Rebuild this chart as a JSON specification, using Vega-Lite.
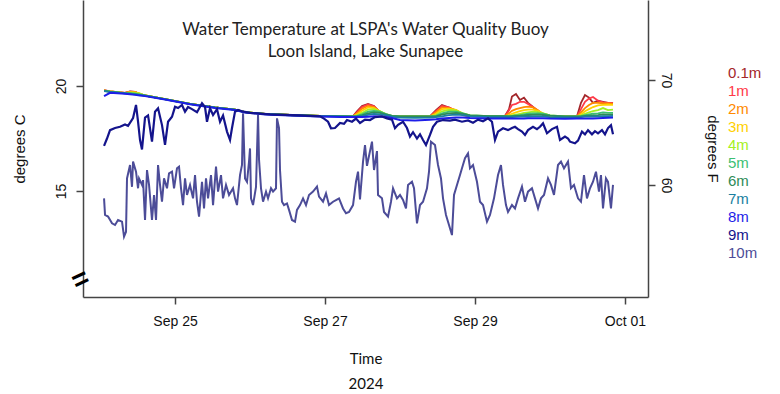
{
 "$schema": "https://vega.github.io/schema/vega-lite/v6.json",
 "width": 565, "height": 297,
 "autosize": {"type": "none"},
 "padding": {"left": 83, "top": 0, "right": 132, "bottom": 97},
 "title": {"text": ["Water Temperature at LSPA's Water Quality Buoy", "Loon Island, Lake Sunapee"], "anchor": "middle", "offset": -61, "baseline": "top", "font": "Lato", "fontSize": 17, "fontWeight": "normal", "lineHeight": 22, "color": "#222"},
 "datasets": {
  "upper": [
   {"t":"2024-09-24T01:17","s01":19.80,"s1":19.79,"s2":19.79,"s3":19.78,"s4":19.78,"s5":19.77,"s6":19.77,"s7":19.76,"s8":19.52},
   {"t":"2024-09-24T03:12","s01":19.75,"s1":19.75,"s2":19.74,"s3":19.74,"s4":19.74,"s5":19.73,"s6":19.73,"s7":19.72,"s8":19.68},
   {"t":"2024-09-24T08:00","s01":19.67,"s1":19.67,"s2":19.67,"s3":19.66,"s4":19.66,"s5":19.66,"s6":19.65,"s7":19.65,"s8":19.63},
   {"t":"2024-09-24T09:36","s01":19.74,"s1":19.73,"s2":19.72,"s3":19.71,"s4":19.69,"s5":19.66,"s6":19.64,"s7":19.63,"s8":19.61},
   {"t":"2024-09-24T11:12","s01":19.72,"s1":19.72,"s2":19.71,"s3":19.70,"s4":19.68,"s5":19.64,"s6":19.62,"s7":19.60,"s8":19.58},
   {"t":"2024-09-24T12:48","s01":19.62,"s1":19.62,"s2":19.63,"s3":19.64,"s4":19.64,"s5":19.60,"s6":19.58,"s7":19.57,"s8":19.55},
   {"t":"2024-09-24T14:24","s01":19.55,"s1":19.55,"s2":19.55,"s3":19.55,"s4":19.55,"s5":19.55,"s6":19.54,"s7":19.54,"s8":19.52},
   {"t":"2024-09-24T20:48","s01":19.38,"s1":19.38,"s2":19.38,"s3":19.38,"s4":19.38,"s5":19.38,"s6":19.38,"s7":19.37,"s8":19.36},
   {"t":"2024-09-25T04:48","s01":19.15,"s1":19.15,"s2":19.15,"s3":19.15,"s4":19.15,"s5":19.15,"s6":19.15,"s7":19.14,"s8":19.13},
   {"t":"2024-09-25T12:48","s01":18.98,"s1":18.98,"s2":18.98,"s3":18.98,"s4":18.98,"s5":18.98,"s6":18.98,"s7":18.97,"s8":18.96},
   {"t":"2024-09-25T19:12","s01":18.88,"s1":18.88,"s2":18.88,"s3":18.88,"s4":18.88,"s5":18.88,"s6":18.88,"s7":18.87,"s8":18.86},
   {"t":"2024-09-25T22:24","s01":18.76,"s1":18.76,"s2":18.76,"s3":18.76,"s4":18.76,"s5":18.76,"s6":18.76,"s7":18.75,"s8":18.74},
   {"t":"2024-09-26T04:48","s01":18.67,"s1":18.67,"s2":18.67,"s3":18.67,"s4":18.67,"s5":18.67,"s6":18.67,"s7":18.66,"s8":18.65},
   {"t":"2024-09-26T12:48","s01":18.62,"s1":18.62,"s2":18.62,"s3":18.62,"s4":18.62,"s5":18.62,"s6":18.62,"s7":18.61,"s8":18.60},
   {"t":"2024-09-26T22:24","s01":18.58,"s1":18.58,"s2":18.58,"s3":18.58,"s4":18.58,"s5":18.58,"s6":18.58,"s7":18.57,"s8":18.55},
   {"t":"2024-09-27T04:48","s01":18.57,"s1":18.57,"s2":18.57,"s3":18.57,"s4":18.57,"s5":18.57,"s6":18.57,"s7":18.55,"s8":18.52},
   {"t":"2024-09-27T08:58","s01":18.56,"s1":18.56,"s2":18.56,"s3":18.56,"s4":18.56,"s5":18.56,"s6":18.56,"s7":18.54,"s8":18.52},
   {"t":"2024-09-27T10:14","s01":18.80,"s1":18.75,"s2":18.70,"s3":18.65,"s4":18.60,"s5":18.58,"s6":18.57,"s7":18.55,"s8":18.52},
   {"t":"2024-09-27T11:50","s01":19.05,"s1":19.00,"s2":18.92,"s3":18.82,"s4":18.72,"s5":18.65,"s6":18.60,"s7":18.57,"s8":18.52},
   {"t":"2024-09-27T13:46","s01":19.15,"s1":19.12,"s2":19.05,"s3":18.98,"s4":18.88,"s5":18.78,"s6":18.70,"s7":18.63,"s8":18.54},
   {"t":"2024-09-27T15:41","s01":19.05,"s1":19.03,"s2":19.00,"s3":18.95,"s4":18.90,"s5":18.82,"s6":18.75,"s7":18.67,"s8":18.56},
   {"t":"2024-09-27T17:36","s01":18.75,"s1":18.76,"s2":18.78,"s3":18.80,"s4":18.80,"s5":18.78,"s6":18.72,"s7":18.65,"s8":18.55},
   {"t":"2024-09-27T19:31","s01":18.60,"s1":18.60,"s2":18.62,"s3":18.64,"s4":18.66,"s5":18.66,"s6":18.65,"s7":18.61,"s8":18.53},
   {"t":"2024-09-27T21:26","s01":18.57,"s1":18.57,"s2":18.57,"s3":18.57,"s4":18.58,"s5":18.58,"s6":18.58,"s7":18.54,"s8":18.48},
   {"t":"2024-09-28T00:00","s01":18.56,"s1":18.56,"s2":18.56,"s3":18.56,"s4":18.56,"s5":18.56,"s6":18.56,"s7":18.50,"s8":18.38},
   {"t":"2024-09-28T04:48","s01":18.56,"s1":18.56,"s2":18.56,"s3":18.56,"s4":18.56,"s5":18.56,"s6":18.56,"s7":18.48,"s8":18.36},
   {"t":"2024-09-28T09:36","s01":18.55,"s1":18.55,"s2":18.55,"s3":18.55,"s4":18.55,"s5":18.55,"s6":18.55,"s7":18.50,"s8":18.40},
   {"t":"2024-09-28T11:31","s01":18.85,"s1":18.80,"s2":18.75,"s3":18.68,"s4":18.62,"s5":18.58,"s6":18.56,"s7":18.52,"s8":18.42},
   {"t":"2024-09-28T13:26","s01":19.10,"s1":19.05,"s2":18.98,"s3":18.90,"s4":18.80,"s5":18.70,"s6":18.64,"s7":18.56,"s8":18.45},
   {"t":"2024-09-28T15:41","s01":18.98,"s1":18.98,"s2":18.95,"s3":18.92,"s4":18.86,"s5":18.78,"s6":18.70,"s7":18.62,"s8":18.48},
   {"t":"2024-09-28T17:55","s01":18.80,"s1":18.82,"s2":18.85,"s3":18.86,"s4":18.84,"s5":18.78,"s6":18.72,"s7":18.64,"s8":18.50},
   {"t":"2024-09-28T20:10","s01":18.62,"s1":18.63,"s2":18.65,"s3":18.68,"s4":18.70,"s5":18.70,"s6":18.68,"s7":18.62,"s8":18.50},
   {"t":"2024-09-28T22:24","s01":18.57,"s1":18.57,"s2":18.58,"s3":18.59,"s4":18.60,"s5":18.60,"s6":18.60,"s7":18.56,"s8":18.48},
   {"t":"2024-09-29T04:48","s01":18.57,"s1":18.57,"s2":18.57,"s3":18.57,"s4":18.57,"s5":18.57,"s6":18.57,"s7":18.52,"s8":18.45},
   {"t":"2024-09-29T09:36","s01":18.57,"s1":18.57,"s2":18.57,"s3":18.57,"s4":18.57,"s5":18.57,"s6":18.57,"s7":18.52,"s8":18.45},
   {"t":"2024-09-29T10:53","s01":18.90,"s1":18.85,"s2":18.70,"s3":18.62,"s4":18.58,"s5":18.57,"s6":18.56,"s7":18.52,"s8":18.45},
   {"t":"2024-09-29T11:50","s01":19.50,"s1":19.10,"s2":18.82,"s3":18.68,"s4":18.60,"s5":18.58,"s6":18.57,"s7":18.52,"s8":18.45},
   {"t":"2024-09-29T13:07","s01":19.62,"s1":19.15,"s2":18.90,"s3":18.75,"s4":18.64,"s5":18.60,"s6":18.58,"s7":18.53,"s8":18.46},
   {"t":"2024-09-29T14:24","s01":19.33,"s1":19.25,"s2":18.95,"s3":18.80,"s4":18.68,"s5":18.62,"s6":18.59,"s7":18.54,"s8":18.46},
   {"t":"2024-09-29T15:41","s01":19.45,"s1":19.25,"s2":19.00,"s3":18.85,"s4":18.72,"s5":18.65,"s6":18.60,"s7":18.54,"s8":18.46},
   {"t":"2024-09-29T16:58","s01":19.20,"s1":19.15,"s2":19.02,"s3":18.88,"s4":18.75,"s5":18.68,"s6":18.62,"s7":18.55,"s8":18.47},
   {"t":"2024-09-29T18:34","s01":19.00,"s1":19.00,"s2":18.98,"s3":18.88,"s4":18.78,"s5":18.70,"s6":18.63,"s7":18.56,"s8":18.47},
   {"t":"2024-09-29T20:10","s01":18.80,"s1":18.82,"s2":18.85,"s3":18.82,"s4":18.76,"s5":18.70,"s6":18.64,"s7":18.56,"s8":18.47},
   {"t":"2024-09-29T21:46","s01":18.62,"s1":18.64,"s2":18.66,"s3":18.70,"s4":18.70,"s5":18.68,"s6":18.63,"s7":18.56,"s8":18.47},
   {"t":"2024-09-30T00:00","s01":18.57,"s1":18.57,"s2":18.58,"s3":18.59,"s4":18.60,"s5":18.60,"s6":18.59,"s7":18.52,"s8":18.45},
   {"t":"2024-09-30T04:48","s01":18.55,"s1":18.55,"s2":18.55,"s3":18.55,"s4":18.55,"s5":18.55,"s6":18.55,"s7":18.51,"s8":18.44},
   {"t":"2024-09-30T08:38","s01":18.55,"s1":18.55,"s2":18.55,"s3":18.55,"s4":18.55,"s5":18.55,"s6":18.55,"s7":18.51,"s8":18.45},
   {"t":"2024-09-30T09:55","s01":19.20,"s1":18.90,"s2":18.75,"s3":18.65,"s4":18.60,"s5":18.57,"s6":18.56,"s7":18.52,"s8":18.45},
   {"t":"2024-09-30T11:12","s01":19.57,"s1":19.25,"s2":18.95,"s3":18.80,"s4":18.68,"s5":18.62,"s6":18.58,"s7":18.54,"s8":18.46},
   {"t":"2024-09-30T12:29","s01":19.45,"s1":19.40,"s2":19.10,"s3":18.90,"s4":18.75,"s5":18.65,"s6":18.59,"s7":18.54,"s8":18.46},
   {"t":"2024-09-30T13:46","s01":19.20,"s1":19.48,"s2":19.20,"s3":19.00,"s4":18.80,"s5":18.68,"s6":18.60,"s7":18.55,"s8":18.46},
   {"t":"2024-09-30T15:22","s01":19.30,"s1":19.30,"s2":19.20,"s3":19.08,"s4":18.85,"s5":18.70,"s6":18.62,"s7":18.56,"s8":18.47},
   {"t":"2024-09-30T16:58","s01":19.25,"s1":19.22,"s2":19.18,"s3":19.10,"s4":18.95,"s5":18.75,"s6":18.65,"s7":18.57,"s8":18.48},
   {"t":"2024-09-30T18:34","s01":19.20,"s1":19.20,"s2":19.17,"s3":19.12,"s4":18.85,"s5":18.72,"s6":18.64,"s7":18.57,"s8":18.49},
   {"t":"2024-09-30T20:10","s01":19.18,"s1":19.18,"s2":19.15,"s3":19.10,"s4":18.88,"s5":18.72,"s6":18.64,"s7":18.58,"s8":18.50}
  ],
  "m9": [
   {"t":"2024-09-24T01:17","v":17.15},{"t":"2024-09-24T02:14","v":17.5},{"t":"2024-09-24T03:12","v":17.9},{"t":"2024-09-24T04:48","v":18.0},
   {"t":"2024-09-24T06:24","v":18.06},{"t":"2024-09-24T08:00","v":18.17},{"t":"2024-09-24T08:58","v":18.1},{"t":"2024-09-24T10:34","v":18.48},
   {"t":"2024-09-24T11:31","v":19.1},{"t":"2024-09-24T12:10","v":18.3},{"t":"2024-09-24T12:48","v":17.43},{"t":"2024-09-24T13:26","v":16.98},
   {"t":"2024-09-24T14:24","v":18.5},{"t":"2024-09-24T15:22","v":18.6},{"t":"2024-09-24T16:38","v":17.35},{"t":"2024-09-24T17:36","v":18.78},
   {"t":"2024-09-24T18:34","v":18.94},{"t":"2024-09-24T19:50","v":18.14},{"t":"2024-09-24T20:48","v":17.2},{"t":"2024-09-24T21:46","v":18.3},
   {"t":"2024-09-24T23:02","v":18.54},{"t":"2024-09-25T00:00","v":19.01},{"t":"2024-09-25T00:58","v":18.95},{"t":"2024-09-25T02:14","v":19.1},
   {"t":"2024-09-25T03:12","v":18.78},{"t":"2024-09-25T04:10","v":19.0},{"t":"2024-09-25T05:26","v":18.9},{"t":"2024-09-25T07:02","v":18.75},
   {"t":"2024-09-25T08:38","v":19.18},{"t":"2024-09-25T09:36","v":19.0},{"t":"2024-09-25T10:14","v":18.3},{"t":"2024-09-25T11:12","v":18.94},
   {"t":"2024-09-25T12:10","v":18.62},{"t":"2024-09-25T13:26","v":18.9},{"t":"2024-09-25T14:24","v":18.3},{"t":"2024-09-25T15:22","v":18.6},
   {"t":"2024-09-25T16:38","v":17.83},{"t":"2024-09-25T17:36","v":17.43},{"t":"2024-09-25T18:14","v":18.0},{"t":"2024-09-25T19:12","v":18.78},
   {"t":"2024-09-25T20:10","v":18.86},{"t":"2024-09-25T21:26","v":18.8},{"t":"2024-09-26T00:00","v":18.72},{"t":"2024-09-26T06:24","v":18.65},
   {"t":"2024-09-26T16:00","v":18.6},{"t":"2024-09-26T22:24","v":18.56},{"t":"2024-09-26T23:41","v":18.45},{"t":"2024-09-27T00:58","v":18.3},
   {"t":"2024-09-27T01:55","v":17.99},{"t":"2024-09-27T03:12","v":18.0},{"t":"2024-09-27T04:48","v":18.24},{"t":"2024-09-27T06:05","v":18.2},
   {"t":"2024-09-27T07:02","v":18.38},{"t":"2024-09-27T08:38","v":18.3},{"t":"2024-09-27T09:55","v":18.45},{"t":"2024-09-27T11:12","v":18.24},
   {"t":"2024-09-27T12:48","v":18.4},{"t":"2024-09-27T14:24","v":18.38},{"t":"2024-09-27T16:00","v":18.52},{"t":"2024-09-27T18:14","v":18.55},
   {"t":"2024-09-27T19:50","v":18.46},{"t":"2024-09-27T21:26","v":18.4},{"t":"2024-09-27T22:24","v":17.99},{"t":"2024-09-27T23:22","v":18.15},
   {"t":"2024-09-28T00:58","v":18.3},{"t":"2024-09-28T02:14","v":18.0},{"t":"2024-09-28T03:12","v":17.59},{"t":"2024-09-28T04:10","v":17.8},
   {"t":"2024-09-28T05:26","v":17.5},{"t":"2024-09-28T06:24","v":17.7},{"t":"2024-09-28T07:22","v":17.43},{"t":"2024-09-28T08:19","v":17.19},
   {"t":"2024-09-28T09:36","v":17.67},{"t":"2024-09-28T10:34","v":18.06},{"t":"2024-09-28T11:50","v":18.3},{"t":"2024-09-28T13:46","v":18.38},
   {"t":"2024-09-28T16:00","v":18.35},{"t":"2024-09-28T17:36","v":18.4},{"t":"2024-09-28T19:50","v":18.3},{"t":"2024-09-28T21:46","v":18.36},
   {"t":"2024-09-28T23:22","v":18.25},{"t":"2024-09-29T00:58","v":18.4},{"t":"2024-09-29T02:34","v":18.32},{"t":"2024-09-29T04:10","v":18.46},
   {"t":"2024-09-29T05:26","v":18.3},{"t":"2024-09-29T06:24","v":17.43},{"t":"2024-09-29T07:22","v":17.83},{"t":"2024-09-29T08:58","v":17.99},
   {"t":"2024-09-29T10:34","v":17.9},{"t":"2024-09-29T11:50","v":18.0},{"t":"2024-09-29T12:48","v":18.06},{"t":"2024-09-29T13:46","v":17.95},
   {"t":"2024-09-29T15:02","v":17.83},{"t":"2024-09-29T16:00","v":17.67},{"t":"2024-09-29T16:58","v":17.9},{"t":"2024-09-29T18:34","v":18.06},
   {"t":"2024-09-29T19:50","v":17.95},{"t":"2024-09-29T20:48","v":18.06},{"t":"2024-09-29T21:46","v":18.22},{"t":"2024-09-29T23:02","v":17.75},
   {"t":"2024-09-30T00:38","v":17.95},{"t":"2024-09-30T02:14","v":18.06},{"t":"2024-09-30T03:12","v":17.43},{"t":"2024-09-30T04:48","v":17.59},
   {"t":"2024-09-30T05:46","v":17.5},{"t":"2024-09-30T06:24","v":17.35},{"t":"2024-09-30T08:00","v":17.27},{"t":"2024-09-30T08:58","v":17.4},
   {"t":"2024-09-30T10:14","v":17.83},{"t":"2024-09-30T11:12","v":17.7},{"t":"2024-09-30T12:10","v":17.9},{"t":"2024-09-30T13:26","v":17.7},
   {"t":"2024-09-30T14:24","v":17.85},{"t":"2024-09-30T15:22","v":17.75},{"t":"2024-09-30T16:38","v":17.9},{"t":"2024-09-30T17:36","v":17.7},
   {"t":"2024-09-30T18:34","v":18.0},{"t":"2024-09-30T19:31","v":18.14},{"t":"2024-09-30T20:10","v":17.7}
  ],
  "m10": [
   {"t":"2024-09-24T01:17","v":14.65},{"t":"2024-09-24T01:36","v":13.86},{"t":"2024-09-24T02:34","v":13.78},{"t":"2024-09-24T03:50","v":13.46},
   {"t":"2024-09-24T04:48","v":13.38},{"t":"2024-09-24T05:46","v":13.62},{"t":"2024-09-24T07:02","v":13.54},{"t":"2024-09-24T07:41","v":12.83},
   {"t":"2024-09-24T08:19","v":13.06},{"t":"2024-09-24T08:38","v":15.6},{"t":"2024-09-24T09:36","v":16.24},{"t":"2024-09-24T10:14","v":15.2},
   {"t":"2024-09-24T10:34","v":16.4},{"t":"2024-09-24T11:31","v":15.92},{"t":"2024-09-24T12:10","v":15.13},{"t":"2024-09-24T12:29","v":15.6},
   {"t":"2024-09-24T13:26","v":15.29},{"t":"2024-09-24T13:46","v":15.52},{"t":"2024-09-24T14:24","v":13.62},{"t":"2024-09-24T15:02","v":16.0},
   {"t":"2024-09-24T15:41","v":15.29},{"t":"2024-09-24T16:38","v":13.62},{"t":"2024-09-24T17:17","v":14.81},{"t":"2024-09-24T17:55","v":13.62},
   {"t":"2024-09-24T18:34","v":16.24},{"t":"2024-09-24T19:12","v":15.29},{"t":"2024-09-24T19:50","v":14.49},{"t":"2024-09-24T20:29","v":15.6},
   {"t":"2024-09-24T21:26","v":15.13},{"t":"2024-09-24T22:05","v":15.84},{"t":"2024-09-24T23:02","v":15.92},{"t":"2024-09-24T23:41","v":15.13},
   {"t":"2024-09-25T00:38","v":16.08},{"t":"2024-09-25T01:17","v":16.16},{"t":"2024-09-25T01:55","v":15.13},{"t":"2024-09-25T02:34","v":14.33},
   {"t":"2024-09-25T03:12","v":15.6},{"t":"2024-09-25T03:50","v":14.81},{"t":"2024-09-25T04:48","v":15.29},{"t":"2024-09-25T05:46","v":14.65},
   {"t":"2024-09-25T06:24","v":15.76},{"t":"2024-09-25T07:02","v":14.49},{"t":"2024-09-25T07:41","v":13.78},{"t":"2024-09-25T08:38","v":15.44},
   {"t":"2024-09-25T09:17","v":14.17},{"t":"2024-09-25T09:55","v":15.6},{"t":"2024-09-25T10:34","v":14.65},{"t":"2024-09-25T11:31","v":15.76},
   {"t":"2024-09-25T12:10","v":14.33},{"t":"2024-09-25T13:07","v":16.16},{"t":"2024-09-25T13:46","v":14.97},{"t":"2024-09-25T14:43","v":15.76},
   {"t":"2024-09-25T15:22","v":14.65},{"t":"2024-09-25T16:19","v":15.29},{"t":"2024-09-25T17:17","v":14.81},{"t":"2024-09-25T18:34","v":15.13},
   {"t":"2024-09-25T19:12","v":14.65},{"t":"2024-09-25T19:50","v":14.33},{"t":"2024-09-25T20:48","v":15.76},{"t":"2024-09-25T21:26","v":16.24},
   {"t":"2024-09-25T21:46","v":18.7},{"t":"2024-09-25T22:24","v":15.6},{"t":"2024-09-25T23:02","v":15.44},{"t":"2024-09-25T23:41","v":16.4},
   {"t":"2024-09-26T00:00","v":17.03},{"t":"2024-09-26T00:19","v":14.65},{"t":"2024-09-26T00:58","v":14.33},{"t":"2024-09-26T01:55","v":15.2},
   {"t":"2024-09-26T02:34","v":18.62},{"t":"2024-09-26T02:53","v":16.5},{"t":"2024-09-26T03:31","v":15.13},{"t":"2024-09-26T04:10","v":14.49},
   {"t":"2024-09-26T05:07","v":14.97},{"t":"2024-09-26T05:46","v":14.65},{"t":"2024-09-26T06:43","v":15.13},{"t":"2024-09-26T07:22","v":14.97},
   {"t":"2024-09-26T08:19","v":15.13},{"t":"2024-09-26T08:38","v":18.46},{"t":"2024-09-26T09:17","v":18.0},{"t":"2024-09-26T09:36","v":16.0},
   {"t":"2024-09-26T10:14","v":14.49},{"t":"2024-09-26T10:53","v":14.33},{"t":"2024-09-26T11:50","v":14.41},{"t":"2024-09-26T12:29","v":14.1},
   {"t":"2024-09-26T13:26","v":13.62},{"t":"2024-09-26T14:24","v":13.54},{"t":"2024-09-26T15:02","v":14.1},{"t":"2024-09-26T16:00","v":14.33},
   {"t":"2024-09-26T16:58","v":14.65},{"t":"2024-09-26T17:55","v":14.33},{"t":"2024-09-26T18:53","v":14.81},{"t":"2024-09-26T20:10","v":14.97},
   {"t":"2024-09-26T21:26","v":15.21},{"t":"2024-09-26T22:05","v":14.73},{"t":"2024-09-26T23:22","v":14.49},{"t":"2024-09-27T00:19","v":14.89},
   {"t":"2024-09-27T01:17","v":14.33},{"t":"2024-09-27T02:34","v":14.49},{"t":"2024-09-27T03:31","v":14.57},{"t":"2024-09-27T04:29","v":14.65},
   {"t":"2024-09-27T05:46","v":14.17},{"t":"2024-09-27T06:43","v":13.94},{"t":"2024-09-27T07:41","v":14.0},{"t":"2024-09-27T08:58","v":14.33},
   {"t":"2024-09-27T09:55","v":15.44},{"t":"2024-09-27T10:34","v":15.92},{"t":"2024-09-27T11:12","v":14.6},{"t":"2024-09-27T12:10","v":16.4},
   {"t":"2024-09-27T12:48","v":17.19},{"t":"2024-09-27T13:26","v":16.2},{"t":"2024-09-27T14:24","v":16.9},{"t":"2024-09-27T15:02","v":17.35},
   {"t":"2024-09-27T15:41","v":16.0},{"t":"2024-09-27T16:38","v":16.9},{"t":"2024-09-27T16:58","v":14.81},{"t":"2024-09-27T18:14","v":14.65},
   {"t":"2024-09-27T18:53","v":14.0},{"t":"2024-09-27T20:10","v":13.78},{"t":"2024-09-27T21:07","v":14.49},{"t":"2024-09-27T21:46","v":15.13},
   {"t":"2024-09-27T23:02","v":14.65},{"t":"2024-09-28T00:00","v":14.81},{"t":"2024-09-28T00:58","v":14.57},{"t":"2024-09-28T01:55","v":14.17},
   {"t":"2024-09-28T02:34","v":15.29},{"t":"2024-09-28T03:50","v":15.44},{"t":"2024-09-28T04:29","v":15.13},{"t":"2024-09-28T05:26","v":13.46},
   {"t":"2024-09-28T06:24","v":14.33},{"t":"2024-09-28T07:22","v":14.49},{"t":"2024-09-28T08:38","v":15.13},{"t":"2024-09-28T09:17","v":15.92},
   {"t":"2024-09-28T09:55","v":17.35},{"t":"2024-09-28T11:12","v":17.19},{"t":"2024-09-28T12:10","v":16.24},{"t":"2024-09-28T13:07","v":15.6},
   {"t":"2024-09-28T13:46","v":14.65},{"t":"2024-09-28T14:43","v":13.86},{"t":"2024-09-28T15:41","v":13.38},{"t":"2024-09-28T16:38","v":12.9},
   {"t":"2024-09-28T17:17","v":14.81},{"t":"2024-09-28T18:14","v":15.29},{"t":"2024-09-28T19:12","v":15.76},{"t":"2024-09-28T19:50","v":16.08},
   {"t":"2024-09-28T20:48","v":16.56},{"t":"2024-09-28T21:46","v":16.79},{"t":"2024-09-28T22:24","v":16.08},{"t":"2024-09-28T23:22","v":16.24},
   {"t":"2024-09-29T00:38","v":15.44},{"t":"2024-09-29T01:36","v":14.49},{"t":"2024-09-29T02:34","v":14.33},{"t":"2024-09-29T03:50","v":13.54},
   {"t":"2024-09-29T04:48","v":13.86},{"t":"2024-09-29T06:05","v":14.65},{"t":"2024-09-29T07:22","v":15.76},{"t":"2024-09-29T08:19","v":16.24},
   {"t":"2024-09-29T08:58","v":15.29},{"t":"2024-09-29T09:55","v":14.33},{"t":"2024-09-29T10:34","v":14.0},{"t":"2024-09-29T11:50","v":14.33},
   {"t":"2024-09-29T12:48","v":14.17},{"t":"2024-09-29T13:46","v":14.65},{"t":"2024-09-29T15:02","v":15.21},{"t":"2024-09-29T16:00","v":14.49},
   {"t":"2024-09-29T16:58","v":14.97},{"t":"2024-09-29T18:14","v":15.13},{"t":"2024-09-29T19:12","v":14.65},{"t":"2024-09-29T20:10","v":14.17},
   {"t":"2024-09-29T21:07","v":14.65},{"t":"2024-09-29T22:05","v":14.81},{"t":"2024-09-29T23:22","v":15.6},{"t":"2024-09-30T00:19","v":15.29},
   {"t":"2024-09-30T01:17","v":14.81},{"t":"2024-09-30T02:34","v":16.24},{"t":"2024-09-30T03:31","v":16.4},{"t":"2024-09-30T04:29","v":16.08},
   {"t":"2024-09-30T05:46","v":16.4},{"t":"2024-09-30T06:43","v":15.13},{"t":"2024-09-30T07:41","v":15.29},{"t":"2024-09-30T08:58","v":14.65},
   {"t":"2024-09-30T09:55","v":14.49},{"t":"2024-09-30T10:53","v":15.76},{"t":"2024-09-30T11:50","v":14.65},{"t":"2024-09-30T12:48","v":15.13},
   {"t":"2024-09-30T13:46","v":15.44},{"t":"2024-09-30T14:43","v":15.92},{"t":"2024-09-30T15:41","v":14.97},{"t":"2024-09-30T16:19","v":15.76},
   {"t":"2024-09-30T16:58","v":14.17},{"t":"2024-09-30T17:55","v":15.6},{"t":"2024-09-30T18:34","v":15.44},{"t":"2024-09-30T19:31","v":14.17},
   {"t":"2024-09-30T20:10","v":15.29}
  ],
  "brk": [{"t":"2024-09-23T17:50","v":10.75,"sym":"="}]
 },
 "layer": [
  {
   "encoding": {
    "x": {"field": "t", "type": "temporal", "title": ["Time", "2024"],
     "scale": {"domain": [{"year": 2024, "month": 9, "date": 23, "hours": 18, "minutes": 33}, {"year": 2024, "month": 10, "date": 1, "hours": 7, "minutes": 22}]},
     "axis": {"values": [{"year": 2024, "month": 9, "date": 25}, {"year": 2024, "month": 9, "date": 27}, {"year": 2024, "month": 9, "date": 29}, {"year": 2024, "month": 10, "date": 1}], "format": "%b %d", "labelPadding": 10, "titlePadding": 23, "titleFont": "Lato", "titleFontSize": 15, "titleLineHeight": 25}}
   },
   "layer": [
    {"data": {"name": "upper"}, "mark": {"type": "line", "strokeWidth": 1.8}, "encoding": {"y": {"field": "s01", "type": "quantitative", "title": "degrees C", "scale": {"domain": [9.95, 24.1], "nice": false, "zero": false}, "axis": {"values": [15, 20], "labelAngle": 270, "labelAlign": "center", "labelBaseline": "bottom", "labelPadding": 8, "titlePadding": 27, "titleFontSize": 15}}, "color": {"datum": "0.1m", "type": "nominal", "scale": {"domain": ["0.1m", "1m", "2m", "3m", "4m", "5m", "6m", "7m", "8m", "9m", "10m"], "range": ["#a3262a", "#ff3a48", "#ff8a00", "#ffd000", "#a4f022", "#3cbf72", "#2e8b57", "#1a7fa0", "#1e1ee8", "#14148c", "#4c4c98"]}, "legend": {"title": null}}}},
    {"data": {"name": "upper"}, "mark": {"type": "line", "strokeWidth": 1.8}, "encoding": {"y": {"field": "s1", "type": "quantitative", "title": "degrees C", "scale": {"domain": [9.95, 24.1], "nice": false, "zero": false}}, "color": {"datum": "1m", "type": "nominal"}}},
    {"data": {"name": "upper"}, "mark": {"type": "line", "strokeWidth": 1.8}, "encoding": {"y": {"field": "s2", "type": "quantitative", "title": "degrees C", "scale": {"domain": [9.95, 24.1], "nice": false, "zero": false}}, "color": {"datum": "2m", "type": "nominal"}}},
    {"data": {"name": "upper"}, "mark": {"type": "line", "strokeWidth": 1.8}, "encoding": {"y": {"field": "s3", "type": "quantitative", "title": "degrees C", "scale": {"domain": [9.95, 24.1], "nice": false, "zero": false}}, "color": {"datum": "3m", "type": "nominal"}}},
    {"data": {"name": "upper"}, "mark": {"type": "line", "strokeWidth": 1.8}, "encoding": {"y": {"field": "s4", "type": "quantitative", "title": "degrees C", "scale": {"domain": [9.95, 24.1], "nice": false, "zero": false}}, "color": {"datum": "4m", "type": "nominal"}}},
    {"data": {"name": "upper"}, "mark": {"type": "line", "strokeWidth": 1.8}, "encoding": {"y": {"field": "s5", "type": "quantitative", "title": "degrees C", "scale": {"domain": [9.95, 24.1], "nice": false, "zero": false}}, "color": {"datum": "5m", "type": "nominal"}}},
    {"data": {"name": "upper"}, "mark": {"type": "line", "strokeWidth": 1.8}, "encoding": {"y": {"field": "s6", "type": "quantitative", "title": "degrees C", "scale": {"domain": [9.95, 24.1], "nice": false, "zero": false}}, "color": {"datum": "6m", "type": "nominal"}}},
    {"data": {"name": "upper"}, "mark": {"type": "line", "strokeWidth": 1.8}, "encoding": {"y": {"field": "s7", "type": "quantitative", "title": "degrees C", "scale": {"domain": [9.95, 24.1], "nice": false, "zero": false}}, "color": {"datum": "7m", "type": "nominal"}}},
    {"data": {"name": "upper"}, "mark": {"type": "line", "strokeWidth": 2}, "encoding": {"y": {"field": "s8", "type": "quantitative", "title": "degrees C", "scale": {"domain": [9.95, 24.1], "nice": false, "zero": false}}, "color": {"datum": "8m", "type": "nominal"}}},
    {"data": {"name": "m9"}, "mark": {"type": "line", "strokeWidth": 2.2}, "encoding": {"y": {"field": "v", "type": "quantitative", "title": "degrees C", "scale": {"domain": [9.95, 24.1], "nice": false, "zero": false}}, "color": {"datum": "9m", "type": "nominal"}}},
    {"data": {"name": "m10"}, "mark": {"type": "line", "strokeWidth": 2}, "encoding": {"y": {"field": "v", "type": "quantitative", "title": "degrees C", "scale": {"domain": [9.95, 24.1], "nice": false, "zero": false}}, "color": {"datum": "10m", "type": "nominal"}}},
    {"data": {"name": "brk"}, "mark": {"type": "text", "fontSize": 28, "fontWeight": "bold", "angle": -25, "align": "center", "baseline": "middle", "color": "#000", "font": "Liberation Sans"}, "encoding": {"y": {"field": "v", "type": "quantitative", "title": "degrees C", "scale": {"domain": [9.95, 24.1], "nice": false, "zero": false}}, "text": {"field": "sym"}}}
   ]
  },
  {
   "data": {"values": [{"f": 60}, {"f": 70}]},
   "mark": {"type": "point", "opacity": 0},
   "encoding": {"y": {"field": "f", "type": "quantitative", "title": "degrees F", "scale": {"domain": [49.33, 77.62], "nice": false, "zero": false}, "axis": {"orient": "right", "values": [60, 70], "labelAngle": 90, "labelAlign": "center", "labelBaseline": "bottom", "labelPadding": 3, "titlePadding": 32, "titleFontSize": 15}}}
  }
 ],
 "resolve": {"scale": {"y": "independent"}},
 "config": {
  "view": {"stroke": null},
  "font": "Liberation Sans",
  "axis": {"grid": false, "domainColor": "#444", "tickColor": "#444", "domainWidth": 1.5, "tickWidth": 1.5, "tickSize": 7, "labelColor": "#111", "labelFontSize": 14, "labelFont": "Liberation Sans", "titleFont": "Liberation Sans", "titleFontWeight": "normal", "titleColor": "#111"},
  "legend": {"orient": "none", "legendX": 630, "legendY": 64, "padding": 0, "symbolSize": 0, "symbolOpacity": 0, "symbolStrokeWidth": 0, "labelOffset": 0, "clipHeight": 18, "rowPadding": 0, "labelFontSize": 15, "labelFont": "Liberation Sans", "labelColor": {"expr": "scale('color', datum.value)"}}
 }
}
